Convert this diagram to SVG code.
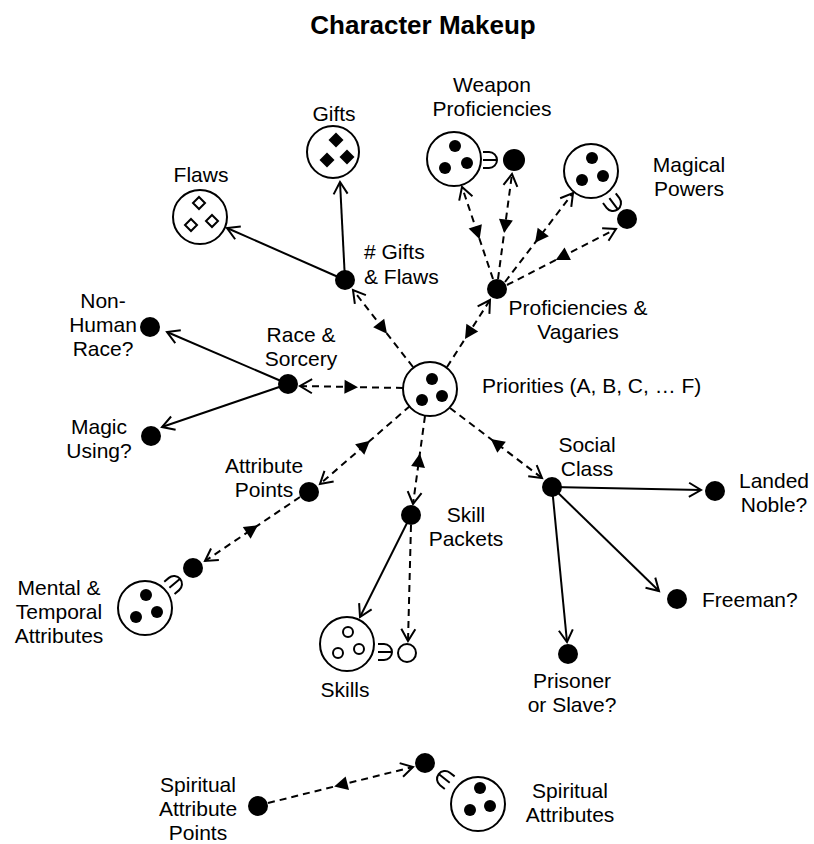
<svg xmlns="http://www.w3.org/2000/svg" width="814" height="844" viewBox="0 0 814 844">
<style>
text{font-family:"Liberation Sans",Arial,sans-serif;font-size:21px;fill:#000;text-anchor:middle}
.title{font-weight:bold;font-size:26px}
.st{text-anchor:start}
.dot{fill:#000}
.big{fill:#fff;stroke:#000;stroke-width:2}
.in{fill:#000}
.hin{fill:#fff;stroke:#000;stroke-width:2}
.sock{fill:none;stroke:#000;stroke-width:2}
.solid{fill:none;stroke:#000;stroke-width:2;marker-end:url(#vee)}
.dash{fill:none;stroke:#000;stroke-width:2;stroke-dasharray:7 5;marker-end:url(#vee);marker-mid:url(#tri)}
.dash2{fill:none;stroke:#000;stroke-width:2;stroke-dasharray:7 5;marker-end:url(#vee)}
</style>
<defs>
<marker id="vee" markerUnits="userSpaceOnUse" viewBox="-16 -10 20 20" refX="0" refY="0" markerWidth="20" markerHeight="20" orient="auto">
<path d="M-12,-7 L0,0 L-12,7" fill="none" stroke="#000" stroke-width="2"/>
</marker>
<marker id="tri" markerUnits="userSpaceOnUse" viewBox="-10 -10 20 20" refX="0" refY="0" markerWidth="20" markerHeight="20" orient="auto">
<path d="M-6.5,0 L7,-7 L7,7 Z" fill="#000"/>
</marker>
<path id="sk" d="M-6,-8 L0,-8 A8,8 0 0 1 0,8 L-6,8 M-6,0 L8,0"/>
</defs>

<text class="title" x="423" y="34">Character Makeup</text>

<g id="connectors">
<path class="dash" d="M413,367 L383,328.5 L353,290"/>
<path class="dash" d="M403,388 L351.5,387 L300,386"/>
<path class="dash" d="M447,367 L468.5,333.5 L490,300"/>
<path class="dash" d="M410,406 L365,445 L320,484"/>
<path class="dash" d="M425,416 L419,460 L413,504"/>
<path class="dash" d="M450,408 L496,443 L542,478"/>
<path class="dash" d="M493,279 L477.5,233 L462,187"/>
<path class="dash" d="M498,279 L505,226.5 L512,174"/>
<path class="dash" d="M505,282 L539,237.5 L573,193"/>
<path class="dash" d="M507,285 L561.5,257 L616,229"/>
<path class="dash" d="M300,497 L252.5,529 L205,561"/>
<path class="dash" d="M268,803 L340.5,785 L413,767"/>
<path class="dash2" d="M411,525 L408,641"/>
<path class="solid" d="M345,280 L227,228"/>
<path class="solid" d="M345,280 L340,182"/>
<path class="solid" d="M288,384 L167,332"/>
<path class="solid" d="M288,384 L162,427"/>
<path class="solid" d="M552,487 L701,490"/>
<path class="solid" d="M552,487 L659,591"/>
<path class="solid" d="M552,487 L567,642"/>
<path class="solid" d="M411,515 L360,617"/>
</g>

<g id="priorities">
<circle class="big" cx="430" cy="389" r="27"/>
<circle class="in" cx="432" cy="379" r="6"/>
<circle class="in" cx="422" cy="400" r="6"/>
<circle class="in" cx="442" cy="396" r="6"/>
<text class="st" x="482" y="393">Priorities (A, B, C, … F)</text>
</g>

<g id="gifts-flaws">
<circle class="dot" cx="345" cy="280" r="10"/>
<text class="st" x="364" y="259"># Gifts</text>
<text class="st" x="364" y="284">&amp; Flaws</text>
</g>

<g id="gifts">
<circle class="big" cx="333" cy="152" r="26"/>
<polygon class="in" points="336,132.5 343.5,140 336,147.5 328.5,140"/>
<polygon class="in" points="327,152.5 334.5,160 327,167.5 319.5,160"/>
<polygon class="in" points="347,149.5 354.5,157 347,164.5 339.5,157"/>
<text x="334" y="121">Gifts</text>
</g>

<g id="flaws">
<circle class="big" cx="200" cy="217" r="27"/>
<polygon class="hin" points="199,197 205,203 199,209 193,203"/>
<polygon class="hin" points="191,219 197,225 191,231 185,225"/>
<polygon class="hin" points="212,215 218,221 212,227 206,221"/>
<text x="201" y="182">Flaws</text>
</g>

<g id="race-sorcery">
<circle class="dot" cx="288" cy="384" r="10"/>
<text x="301" y="342">Race &amp;</text>
<text x="301" y="366">Sorcery</text>
</g>

<g id="non-human">
<circle class="dot" cx="150" cy="327" r="10"/>
<text x="103" y="308">Non-</text>
<text x="103" y="332">Human</text>
<text x="103" y="356">Race?</text>
</g>

<g id="magic-using">
<circle class="dot" cx="151" cy="436" r="10"/>
<text x="99" y="434">Magic</text>
<text x="99" y="458">Using?</text>
</g>

<g id="prof-vagaries">
<circle class="dot" cx="497" cy="289" r="10"/>
<text x="578" y="315">Proficiencies &amp;</text>
<text x="578" y="339">Vagaries</text>
</g>

<g id="weapon-prof">
<circle class="big" cx="454" cy="159" r="27"/>
<circle class="in" cx="455" cy="146" r="6"/>
<circle class="in" cx="445" cy="168" r="6"/>
<circle class="in" cx="467" cy="163" r="6"/>
<use href="#sk" class="sock" transform="translate(489,160)"/>
<circle class="dot" cx="514" cy="160" r="11"/>
<text x="492" y="92">Weapon</text>
<text x="492" y="116">Proficiencies</text>
</g>

<g id="magical-powers">
<circle class="big" cx="591" cy="171" r="27"/>
<circle class="in" cx="592" cy="158" r="6"/>
<circle class="in" cx="582" cy="180" r="6"/>
<circle class="in" cx="603" cy="176" r="6"/>
<use href="#sk" class="sock" transform="translate(613,203) rotate(53)"/>
<circle class="dot" cx="627" cy="219" r="10"/>
<text x="689" y="172">Magical</text>
<text x="689" y="196">Powers</text>
</g>

<g id="attribute-points">
<circle class="dot" cx="309" cy="492" r="10"/>
<text x="264" y="473">Attribute</text>
<text x="264" y="497">Points</text>
</g>

<g id="mental-temporal">
<circle class="dot" cx="193" cy="568" r="10"/>
<use href="#sk" class="sock" transform="translate(174,584) rotate(-40)"/>
<circle class="big" cx="145" cy="608" r="27"/>
<circle class="in" cx="146" cy="595" r="6"/>
<circle class="in" cx="136" cy="617" r="6"/>
<circle class="in" cx="157" cy="612" r="6"/>
<text x="59" y="595">Mental &amp;</text>
<text x="59" y="619">Temporal</text>
<text x="59" y="643">Attributes</text>
</g>

<g id="skill-packets">
<circle class="dot" cx="411" cy="515" r="10"/>
<text x="466" y="522">Skill</text>
<text x="466" y="546">Packets</text>
</g>

<g id="skills">
<circle class="big" cx="347" cy="644" r="27"/>
<circle class="hin" cx="348" cy="632" r="5"/>
<circle class="hin" cx="338" cy="653" r="5"/>
<circle class="hin" cx="359" cy="649" r="5"/>
<use href="#sk" class="sock" transform="translate(384,652)"/>
<circle class="hin" cx="407" cy="653" r="9"/>
<text x="345" y="697">Skills</text>
</g>

<g id="social-class">
<circle class="dot" cx="552" cy="487" r="10"/>
<text x="587" y="452">Social</text>
<text x="587" y="476">Class</text>
</g>

<g id="landed-noble">
<circle class="dot" cx="715" cy="491" r="10"/>
<text x="774" y="488">Landed</text>
<text x="774" y="512">Noble?</text>
</g>

<g id="freeman">
<circle class="dot" cx="677" cy="599" r="10"/>
<text class="st" x="702" y="607">Freeman?</text>
</g>

<g id="prisoner">
<circle class="dot" cx="568" cy="654" r="10"/>
<text x="572" y="688">Prisoner</text>
<text x="572" y="712">or Slave?</text>
</g>

<g id="spiritual-attribute-points">
<circle class="dot" cx="258" cy="806" r="10"/>
<text x="198" y="792">Spiritual</text>
<text x="198" y="816">Attribute</text>
<text x="198" y="840">Points</text>
</g>

<g id="spiritual-attributes">
<circle class="dot" cx="425" cy="763" r="10"/>
<use href="#sk" class="sock" transform="translate(445,779) rotate(218)"/>
<circle class="big" cx="478" cy="804" r="27"/>
<circle class="in" cx="480" cy="788" r="6"/>
<circle class="in" cx="470" cy="810" r="6"/>
<circle class="in" cx="490" cy="806" r="6"/>
<text x="570" y="798">Spiritual</text>
<text x="570" y="822">Attributes</text>
</g>
</svg>
